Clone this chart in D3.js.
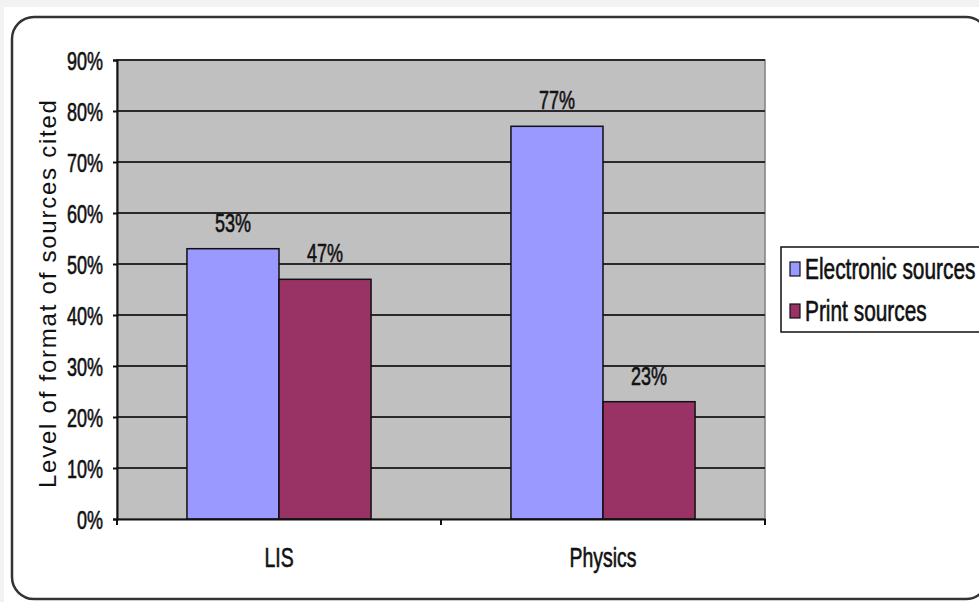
<!DOCTYPE html>
<html>
<head>
<meta charset="utf-8">
<script src="https://cdn.jsdelivr.net/npm/d3@7"></script>
<style>
  html, body { margin: 0; padding: 0; background: #f2f2f2; }
  svg { display: block; }
</style>
</head>
<body>
<svg id="chart" width="979" height="602"></svg>
<script>
// data
const categories = ['LIS', 'Physics'];
const seriesNames = ['Electronic sources', 'Print sources'];
const electronic = [0.53, 0.77];
const print = [0.47, 0.23];
const yTicks = [0, 0.1, 0.2, 0.3, 0.4, 0.5, 0.6, 0.7, 0.8, 0.9];

const COLORS = ['#9999ff', '#993366'];
const PLOT = { left: 117, right: 765, top: 60, bottom: 519 };
const SX = 0.72;  // text in the picture is squeezed sideways
const FONT = "'Liberation Sans', Arial, sans-serif";

const svg = d3.select('#chart');

// page + rounded frame
svg.append('rect').attr('x', 4).attr('y', 7).attr('width', 975).attr('height', 595).attr('fill', '#fff');
svg.append('rect')
    .attr('x', 12).attr('y', 17).attr('width', 976).attr('height', 582)
    .attr('rx', 22).attr('ry', 22)
    .attr('fill', '#fff').attr('stroke', '#333').attr('stroke-width', 2.5);

const x = d3.scaleBand().domain(categories).range([PLOT.left, PLOT.right]);
const xInner = d3.scaleBand().domain(seriesNames).range([0, x.bandwidth()]).paddingOuter(0.76);
const y = d3.scaleLinear().domain([0, 0.9]).range([PLOT.bottom, PLOT.top]);

function squeezed(parent, px, py, str, size, anchor) {
    return parent.append('text')
        .attr('transform', `translate(${px},${py}) scale(${SX},1)`)
        .attr('text-anchor', anchor || 'middle')
        .attr('font-family', FONT)
        .attr('font-size', size)
        .attr('fill', '#111')
        .attr('stroke', '#111').attr('stroke-width', 0.6)
        .text(str);
}

// plot background
svg.append('rect')
    .attr('x', PLOT.left).attr('y', PLOT.top)
    .attr('width', PLOT.right - PLOT.left).attr('height', PLOT.bottom - PLOT.top)
    .attr('fill', '#c0c0c0').attr('stroke', '#808080').attr('stroke-width', 1.5);

// grid lines
svg.append('g').selectAll('line')
    .data(yTicks.filter(d => d > 0))
    .join('line')
    .attr('x1', PLOT.left).attr('x2', PLOT.right)
    .attr('y1', d => y(d)).attr('y2', d => y(d))
    .attr('stroke', '#2a2a2a').attr('stroke-width', 2);

// bars
const rows = categories.map((c, i) => ({ cat: c, vals: [electronic[i], print[i]] }));
const groups = svg.append('g').selectAll('g')
    .data(rows)
    .join('g')
    .attr('transform', d => `translate(${x(d.cat)},0)`);

groups.selectAll('rect')
    .data(d => d.vals.map((v, j) => ({ name: seriesNames[j], v, j })))
    .join('rect')
    .attr('x', d => xInner(d.name))
    .attr('width', xInner.bandwidth())
    .attr('y', d => y(d.v))
    .attr('height', d => y(0) - y(d.v))
    .attr('fill', d => COLORS[d.j])
    .attr('stroke', '#111').attr('stroke-width', 1.5);

// value labels
groups.each(function(d) {
    const g = d3.select(this);
    d.vals.forEach((v, j) => {
        squeezed(g, xInner(seriesNames[j]) + xInner.bandwidth() / 2, y(v) - 17,
            Math.round(v * 100) + '%', 25, 'middle');
    });
});

// y axis
const yAxis = svg.append('g')
    .attr('transform', `translate(${PLOT.left},0)`)
    .call(d3.axisLeft(y).tickValues(yTicks).tickSize(4).tickFormat(d3.format('.0%')));
yAxis.select('.domain').attr('stroke', '#111').attr('stroke-width', 2);
yAxis.selectAll('.tick line').attr('stroke', '#111').attr('stroke-width', 2);
yAxis.selectAll('.tick text').remove();
yAxis.selectAll('.tick').each(function(d) {
    squeezed(d3.select(this), -14, 9, d3.format('.0%')(d), 25, 'end');
});

// x axis
const xAxis = svg.append('g')
    .attr('transform', `translate(0,${PLOT.bottom})`)
    .call(d3.axisBottom(x).tickSize(0).tickFormat(''));
xAxis.select('.domain').attr('stroke', '#111').attr('stroke-width', 2);
xAxis.selectAll('.tick text').remove();
xAxis.selectAll('.boundary')
    .data([PLOT.left, x('Physics'), PLOT.right])
    .join('line')
    .attr('x1', d => d).attr('x2', d => d)
    .attr('y1', 0).attr('y2', 6)
    .attr('stroke', '#111').attr('stroke-width', 2);
categories.forEach(c => {
    squeezed(svg, x(c) + x.bandwidth() / 2, 567, c, 27, 'middle');
});

// y axis title
svg.append('text')
    .attr('transform', 'translate(56,294) rotate(-90)')
    .attr('text-anchor', 'middle')
    .attr('font-family', FONT)
    .attr('font-size', 24)
    .attr('textLength', 388)
    .attr('lengthAdjust', 'spacing')
    .attr('fill', '#111')
    .text('Level of format of sources cited');

// legend
const legend = svg.append('g');
legend.append('rect')
    .attr('x', 781).attr('y', 247).attr('width', 220).attr('height', 85)
    .attr('fill', '#fff').attr('stroke', '#111').attr('stroke-width', 1.5);
seriesNames.forEach((s, i) => {
    const cy = 269 + i * 42;
    legend.append('rect')
        .attr('x', 790).attr('y', cy - 7).attr('width', 10).attr('height', 14)
        .attr('fill', COLORS[i]).attr('stroke', '#111').attr('stroke-width', 1.2);
    squeezed(legend, 805, cy + 10, s, 29, 'start');
});
</script>
</body>
</html>
